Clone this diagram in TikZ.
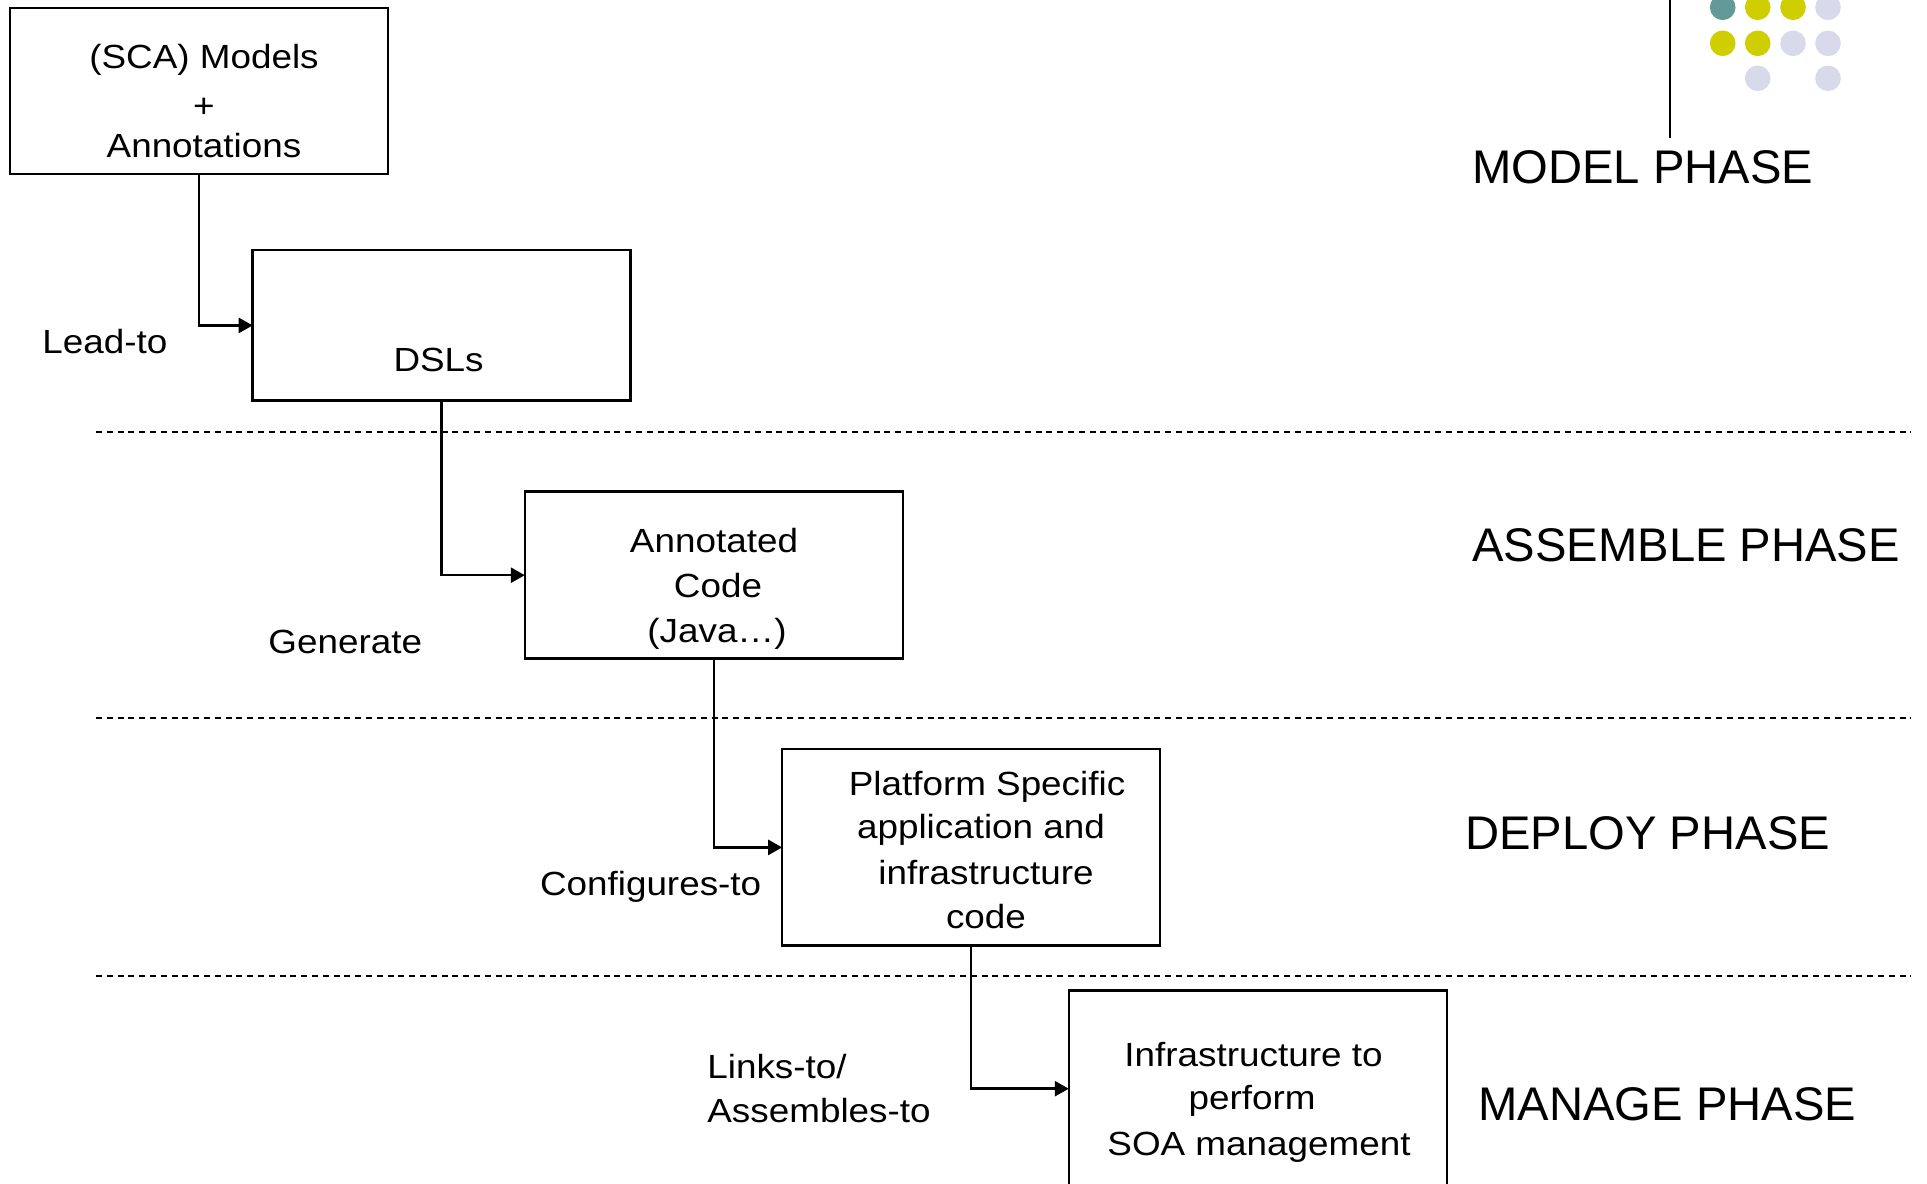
\documentclass[tikz,border=0pt]{standalone}
\usepackage{fontspec}
\setmainfont{Liberation Sans}
\newfontfamily\boxfnt[FakeStretch=1.1]{Liberation Sans}
\usetikzlibrary{arrows.meta}
\definecolor{dotteal}{RGB}{99,153,153}
\definecolor{dotyellow}{RGB}{206,206,0}
\definecolor{dotlav}{RGB}{217,217,236}
\tikzset{
  stagebox/.style={draw=black, line width=1.25pt, fill=white, minimum width=189pt, inner sep=0pt, outer sep=0pt},
  btxt/.style={anchor=base, inner sep=0pt, font=\boxfnt\fontsize{16.75}{20}\selectfont},
  ltxt/.style={anchor=base west, inner sep=0pt, font=\boxfnt\fontsize{16.75}{20}\selectfont},
  phase/.style={anchor=base west, inner sep=0pt, font=\fontsize{23.6}{28}\selectfont},
  conn/.style={draw=black, line width=1.25pt, -{Triangle[length=7pt,width=7.5pt]}},
  sep/.style={draw=black, line width=0.8pt, dash pattern=on 3pt off 2.4pt},
  dot/.style={circle, inner sep=0pt, minimum size=12.8pt, draw=none}
}
\begin{document}
\begin{tikzpicture}[x=0.5pt, y=-0.5pt]
\useasboundingbox (0,0) rectangle (1927,1183);
\clip (0,0) rectangle (1927,1183);
\fill[white] (0,0) rectangle (1927,1183);

% dashed separators
\coordinate (s1a) at (96,432); \coordinate (s1b) at (1911,432);
\coordinate (s2a) at (96,718); \coordinate (s2b) at (1911,718);
\coordinate (s3a) at (96,976); \coordinate (s3b) at (1911,976);
\draw[sep] (s1a) -- (s1b);
\draw[sep] (s2a) -- (s2b);
\draw[sep] (s3a) -- (s3b);

% boxes
\node[stagebox, minimum height=83pt] (sca) at (199,91.2) {};
\node[stagebox, minimum height=75.3pt] (dsl) at (441.7,325.4) {};
\node[stagebox, minimum height=83.5pt] (anc) at (713.8,575.2) {};
\node[stagebox, minimum height=98.3pt] (psc) at (971.2,847.4) {};
\node[stagebox, minimum height=98pt] (inf) at (1257.8,1088.7) {};

% connectors
\draw[conn] (sca.south) |- (dsl.west);
\draw[conn] (dsl.south) |- (anc.west);
\draw[conn] (anc.south) |- (psc.west);
\draw[conn] (psc.south) |- (inf.west);

% box texts
\node[btxt] (t1a) at (204,68) {(SCA) Models};
\node[btxt] (t1b) at (204,117) {+};
\node[btxt] (t1c) at (204,157) {Annotations};
\node[btxt] (t2) at (438.6,371) {DSLs};
\node[btxt] (t3a) at (714,552) {Annotated};
\node[btxt] (t3b) at (718,597) {Code};
\node[btxt] (t3c) at (717,642) {(Java…)};
\node[btxt] (t4a) at (987,795) {Platform Specific};
\node[btxt] (t4b) at (981,838) {application and};
\node[btxt] (t4c) at (986,884) {infrastructure};
\node[btxt] (t4d) at (986,928) {code};
\node[btxt] (t5a) at (1253.5,1066) {Infrastructure to};
\node[btxt] (t5b) at (1252,1109) {perform};
\node[btxt] (t5c) at (1259,1155) {SOA management};

% connector labels
\node[ltxt] (l1) at (42,353) {Lead-to};
\node[ltxt] (l2) at (268,653) {Generate};
\node[ltxt] (l3) at (539.6,895) {Configures-to};
\node[ltxt] (l4a) at (707,1078) {Links-to/};
\node[ltxt] (l4b) at (707,1122) {Assembles-to};

% phase labels
\node[phase] (p1) at (1471.7,183.3) {MODEL PHASE};
\node[phase] (p2) at (1472,561.7) {ASSEMBLE PHASE};
\node[phase] (p3) at (1465,849) {DEPLOY PHASE};
\node[phase] (p4) at (1478,1120) {MANAGE PHASE};

% decoration: vertical line and dots
\coordinate (vtop) at (1670,0);
\coordinate (vbot) at (1670,138);
\draw[line width=1.2pt] (vtop) -- (vbot);
\node[dot, fill=dotteal] (d11) at (1722.7,7.3) {};
\node[dot, fill=dotyellow] (d12) at (1757.7,7.3) {};
\node[dot, fill=dotyellow] (d13) at (1793,7.3) {};
\node[dot, fill=dotlav] (d14) at (1828,7.3) {};
\node[dot, fill=dotyellow] (d21) at (1722.7,43.3) {};
\node[dot, fill=dotyellow] (d22) at (1757.7,43.3) {};
\node[dot, fill=dotlav] (d23) at (1793,43.3) {};
\node[dot, fill=dotlav] (d24) at (1828,43.3) {};
\node[dot, fill=dotlav] (d32) at (1757.7,78.3) {};
\node[dot, fill=dotlav] (d34) at (1828,78.3) {};
\end{tikzpicture}
\end{document}
